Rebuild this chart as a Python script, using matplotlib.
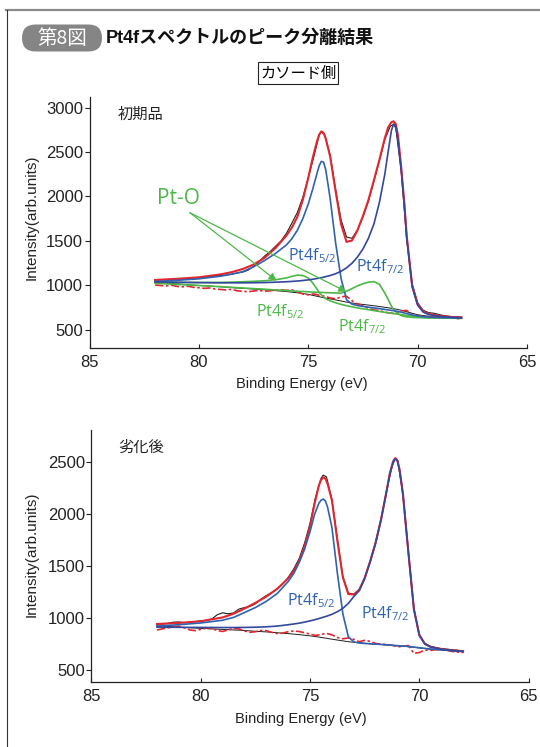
import matplotlib.pyplot as plt
from matplotlib.lines import Line2D
from matplotlib.patches import FancyBboxPatch
from matplotlib.transforms import IdentityTransform

plt.rcParams['font.family'] = ['Liberation Sans', 'Noto Sans CJK JP']
plt.rcParams['mathtext.default'] = 'regular'

W, H = 540, 747

RED = '#e3262d'
BLUE = '#2f62b1'
NAVY = '#33479e'
GREEN = '#4db748'
BLACK = '#1e1e1e'

# energy grid for fitted components (eV), denser around the two Pt4f peaks
E_FIT = [82, 81, 80, 79, 78.5, 78, 77.5, 77, 76.5, 76, 75.75, 75.5, 75.25, 75,
         74.8, 74.6, 74.5, 74.4, 74.3, 74.2, 74, 73.75, 73.5, 73.25, 73,
         72.75, 72.5, 72.25, 72, 71.75, 71.5, 71.35, 71.2, 71.1, 71,
         70.9, 70.75, 70.6, 70.5, 70.25, 70, 69.75, 69.5, 69, 68.5, 68]
# energy grid for measured spectra (eV)
E_RAW = [82.0, 81.75, 81.5, 81.25, 81.0, 80.75, 80.5, 80.25, 80.0, 79.75, 79.5,
         79.25, 79.0, 78.75, 78.5, 78.25, 78.0, 77.75, 77.5, 77.25, 77.0, 76.75,
         76.5, 76.25, 76.0, 75.75, 75.5, 75.25, 75.0, 74.75, 74.5, 74.4, 74.25,
         74.0, 73.75, 73.5, 73.25, 73.0, 72.75, 72.5, 72.25, 72.0, 71.75, 71.5,
         71.25, 71.1, 71.0, 70.75, 70.5, 70.25, 70.0, 69.75, 69.5, 69.25, 69.0,
         68.75, 68.5, 68.25, 68.0]

# 初期品
init_bg = [1035, 1018, 1000, 985, 976, 968, 960, 952, 942, 932, 925, 918, 910, 900,
           890, 879, 874, 868, 863, 857, 850, 838, 826, 813, 803,
           795, 787, 780, 772, 764, 755, 750, 744, 740, 735,
           730, 722, 712, 705, 688, 672, 662, 655, 646, 640, 634]
init_fit = [1062, 1075, 1092, 1125, 1150, 1185, 1235, 1310, 1420, 1560, 1650, 1770,
            1960, 2210, 2430, 2620, 2695, 2732, 2715, 2650, 2450, 2060, 1690, 1490,
            1505, 1620, 1780, 1960, 2180, 2410, 2655, 2775, 2835, 2845, 2815,
            2690, 2330, 1900, 1560, 1000, 790, 710, 682, 658, 647, 641]
init_f52 = [1045, 1058, 1075, 1105, 1127, 1155, 1210, 1280, 1360, 1455, 1525, 1620,
            1750, 1915, 2080, 2260, 2345, 2395, 2385, 2300, 1980, 1480, 1080, 840,
            790, 775, 765, 756, 748, 740, 731, 726, 720, 717, 713,
            708, 700, 691, 685, 670, 658, 650, 645, 640, 637, 634]
init_f72 = [1040, 1036, 1033, 1030, 1030, 1030, 1031, 1033, 1037, 1042, 1046, 1050,
            1056, 1063, 1070, 1079, 1083, 1088, 1093, 1100, 1112, 1132, 1160, 1198,
            1250, 1320, 1410, 1530, 1690, 1930, 2250, 2500, 2740, 2815, 2790,
            2640, 2290, 1880, 1540, 985, 780, 702, 674, 652, 643, 638]
init_pto52 = [1038, 1035, 1033, 1035, 1038, 1042, 1047, 1053, 1065, 1085, 1102, 1117,
              1112, 1085, 1030, 960, 920, 895, 872, 852, 828, 806, 788, 773,
              760, 748, 738, 728, 718, 708, 699, 693, 688, 685, 681,
              677, 673, 667, 664, 655, 649, 644, 640, 636, 634, 632]
init_pto72 = [1025, 1012, 1000, 987, 980, 972, 965, 958, 950, 943, 939, 935, 932,
              929, 926, 924, 923, 922, 921, 920, 918, 916, 914, 935,
              965, 995, 1020, 1037, 1043, 1015, 915, 845, 770, 730, 705,
              685, 662, 652, 648, 642, 639, 637, 635, 633, 632, 631]
init_raw = [1060, 1062, 1066, 1068, 1072, 1074, 1080, 1084, 1088, 1094, 1100, 1108,
            1112, 1118, 1128, 1140, 1150, 1172, 1215, 1268, 1330, 1380, 1440, 1500,
            1585, 1700, 1820, 1990, 2210, 2440, 2690, 2725, 2695, 2470, 2080, 1740,
            1545, 1530, 1625, 1770, 1945, 2170, 2400, 2640, 2790, 2810, 2770, 2290,
            1520, 1020, 805, 722, 695, 688, 672, 660, 652, 648, 645]
init_resid = [1005, 1000, 995, 1003, 990, 985, 992, 980, 975, 968, 972, 960, 955,
              950, 958, 940, 935, 930, 938, 945, 935, 940, 948, 952, 945, 950, 930,
              905, 895, 905, 890, 885, 880, 860, 850, 872, 880, 830, 790, 770, 745,
              725, 718, 700, 690, 686, 682, 715, 720, 668, 650, 655, 645, 650, 640,
              648, 638, 630, 625]

# 劣化後
aged_bg = [925, 912, 900, 890, 885, 880, 872, 866, 858, 850, 845, 840, 834, 828,
           823, 817, 813, 810, 807, 803, 796, 788, 780, 772, 767,
           762, 757, 752, 748, 744, 740, 738, 735, 734, 732,
           730, 728, 726, 724, 718, 712, 706, 700, 692, 684, 676]
aged_fit = [942, 952, 968, 1005, 1040, 1090, 1145, 1205, 1280, 1380, 1450, 1545,
            1690, 1880, 2090, 2270, 2325, 2350, 2340, 2290, 2130, 1740, 1390, 1230,
            1225, 1270, 1385, 1545, 1725, 1950, 2220, 2390, 2505, 2535, 2512,
            2420, 2190, 1850, 1625, 1085, 835, 752, 724, 702, 690, 680]
aged_f52 = [922, 935, 952, 978, 1005, 1052, 1100, 1160, 1235, 1350, 1425, 1530,
            1660, 1830, 1990, 2100, 2130, 2142, 2125, 2065, 1870, 1430, 1040, 820,
            770, 760, 755, 752, 749, 746, 742, 740, 737, 736, 734,
            732, 730, 728, 726, 720, 714, 708, 702, 694, 686, 678]
aged_f72 = [912, 910, 909, 908, 908, 909, 911, 915, 922, 935, 942, 950, 960, 972,
            982, 994, 1000, 1007, 1013, 1020, 1035, 1060, 1092, 1140,
            1205, 1262, 1378, 1538, 1718, 1943, 2212, 2380, 2498, 2528, 2505,
            2412, 2182, 1842, 1618, 1080, 830, 750, 722, 700, 688, 678]
aged_raw = [940, 942, 948, 960, 962, 955, 958, 965, 972, 978, 990, 1030, 1050,
            1040, 1048, 1085, 1100, 1110, 1135, 1180, 1215, 1245, 1280, 1325, 1390,
            1470, 1570, 1720, 1910, 2160, 2340, 2372, 2355, 2140, 1760, 1400, 1240,
            1228, 1272, 1388, 1548, 1730, 1955, 2225, 2455, 2532, 2515, 2190, 1630,
            1090, 840, 756, 728, 715, 705, 700, 694, 690, 684]
aged_resid = [885, 895, 905, 915, 920, 905, 885, 878, 890, 902, 898, 880, 870,
              885, 900, 895, 875, 862, 868, 880, 878, 862, 850, 855, 868, 875, 870,
              858, 845, 832, 840, 846, 852, 838, 812, 800, 808, 795, 772, 785, 775,
              755, 748, 745, 738, 730, 722, 728, 735, 660, 668, 692, 688, 696, 700,
              690, 678, 672, 668]

INIT_TICKS = [500, 1000, 1500, 2000, 2500, 3000]
AGED_TICKS = [500, 1000, 1500, 2000, 2500]
X_TICKS = [85, 80, 75, 70, 65]

fig = plt.figure(figsize=(W / 100, H / 100), dpi=100)


def axes_at(left, top, right, bottom):
    return fig.add_axes([left / W, 1 - bottom / H, (right - left) / W, (bottom - top) / H])


def style_axes(ax, ylim, yticks):
    ax.set_xlim(85, 65)
    ax.set_ylim(*ylim)
    ax.set_xticks(X_TICKS)
    ax.set_yticks(yticks)
    for s in ('top', 'right'):
        ax.spines[s].set_visible(False)
    for s in ('left', 'bottom'):
        ax.spines[s].set_linewidth(0.9)
        ax.spines[s].set_color('#222222')
    ax.tick_params(axis='y', direction='out', length=3.6, width=0.8, pad=1,
                   labelsize=12, colors='#222222')
    ax.tick_params(axis='x', direction='in', length=3, width=0.8, pad=5,
                   labelsize=12, colors='#222222')
    ax.set_xlabel('Binding Energy (eV)', fontsize=10.5, color='#222222')
    ax.set_ylabel('Intensity(arb.units)', fontsize=11, color='#222222')


def draw_common(ax, bg, raw, resid, fit):
    ax.plot(E_FIT, bg, color=BLACK, lw=0.7, zorder=2)
    ax.plot(E_RAW, resid, color=RED, lw=1.2, ls=(0, (5, 1.5, 1.5, 1.5)), zorder=2)
    ax.plot(E_RAW, raw, color=BLACK, lw=0.8, zorder=3)
    ax.plot(E_FIT, fit, color=RED, lw=1.5, zorder=4)


def sub_label(ax, x, y, sub, color, size):
    ax.text(x, y, 'Pt4f$_{%s}$' % sub, color=color, fontsize=size,
            family='Open Sans', ha='left', va='baseline', zorder=6)


# 初期品
ax1 = axes_at(89.5, 97, 527, 347.7)
style_axes(ax1, (301, 3118), INIT_TICKS)
draw_common(ax1, init_bg, init_raw, init_resid, init_fit)
ax1.plot(E_FIT, init_pto72, color=GREEN, lw=1.2, zorder=3.5)
ax1.plot(E_FIT, init_pto52, color=GREEN, lw=1.2, zorder=3.5)
ax1.plot(E_FIT, init_f52, color=BLUE, lw=1.2, zorder=5)
ax1.plot(E_FIT, init_f72, color=NAVY, lw=1.2, zorder=5)
ax1.text(83.7, 2916, '初期品', fontsize=11, ha='left', va='center', color='#222222')
ax1.text(81.93, 1916, 'Pt-O', fontsize=15, family='Open Sans', color=GREEN,
         ha='left', va='baseline')
for tip in [(76.45, 1054), (73.26, 930)]:
    ax1.annotate('', xy=tip, xytext=(80.41, 1818),
                 arrowprops=dict(arrowstyle='-|>', color=GREEN, lw=0.9,
                                 mutation_scale=11, shrinkA=0, shrinkB=0),
                 zorder=6)
sub_label(ax1, 75.94, 1287, '5/2', BLUE, 11.5)
sub_label(ax1, 72.8, 1155, '7/2', BLUE, 11.5)
sub_label(ax1, 77.4, 650, '5/2', GREEN, 11.5)
sub_label(ax1, 73.64, 481, '7/2', GREEN, 11.5)
ax1.xaxis.set_label_coords(0.485, -0.118)
ax1.yaxis.set_label_coords(-0.117, 0.52)

# 劣化後
ax2 = axes_at(91.4, 430, 528.7, 682)
style_axes(ax2, (385, 2805), AGED_TICKS)
draw_common(ax2, aged_bg, aged_raw, aged_resid, aged_fit)
ax2.plot(E_FIT, aged_f52, color=BLUE, lw=1.2, zorder=5)
ax2.plot(E_FIT, aged_f72, color=NAVY, lw=1.2, zorder=5)
ax2.text(83.78, 2631, '劣化後', fontsize=11, ha='left', va='center', color='#222222')
sub_label(ax2, 76.04, 1124, '5/2', BLUE, 11.5)
sub_label(ax2, 72.68, 996, '7/2', BLUE, 11.5)
ax2.xaxis.set_label_coords(0.48, -0.12)
ax2.yaxis.set_label_coords(-0.121, 0.508)

# page frame
fig.add_artist(Line2D([6 / W, 1], [1 - 10 / H, 1 - 10 / H], color='#8a8a8a', lw=1.6))
fig.add_artist(Line2D([7 / W, 7 / W], [0, 1 - 10 / H], color='#333333', lw=0.8))

# figure number badge and title
fig.add_artist(FancyBboxPatch((22, H - 51.5), 80, 27,
                              boxstyle='round,pad=0,rounding_size=13.5',
                              transform=IdentityTransform(), fc='#858585', ec='none'))
fig.text(62 / W, 1 - 38 / H, '第8図', color='white', fontsize=14,
         family='Noto Sans CJK JP', ha='center', va='center')
fig.text(106 / W, 1 - 38 / H, 'Pt4fスペクトルのピーク分離結果', fontsize=13,
         weight='bold', ha='left', va='center', color='#111111')
fig.text(298 / W, 1 - 73 / H, 'カソード側', fontsize=11, ha='center', va='center',
         family='Noto Sans CJK JP',
         bbox=dict(boxstyle='square,pad=0.15', fc='white', ec='#222222', lw=0.8))

fig.savefig('out.png', dpi=100)
